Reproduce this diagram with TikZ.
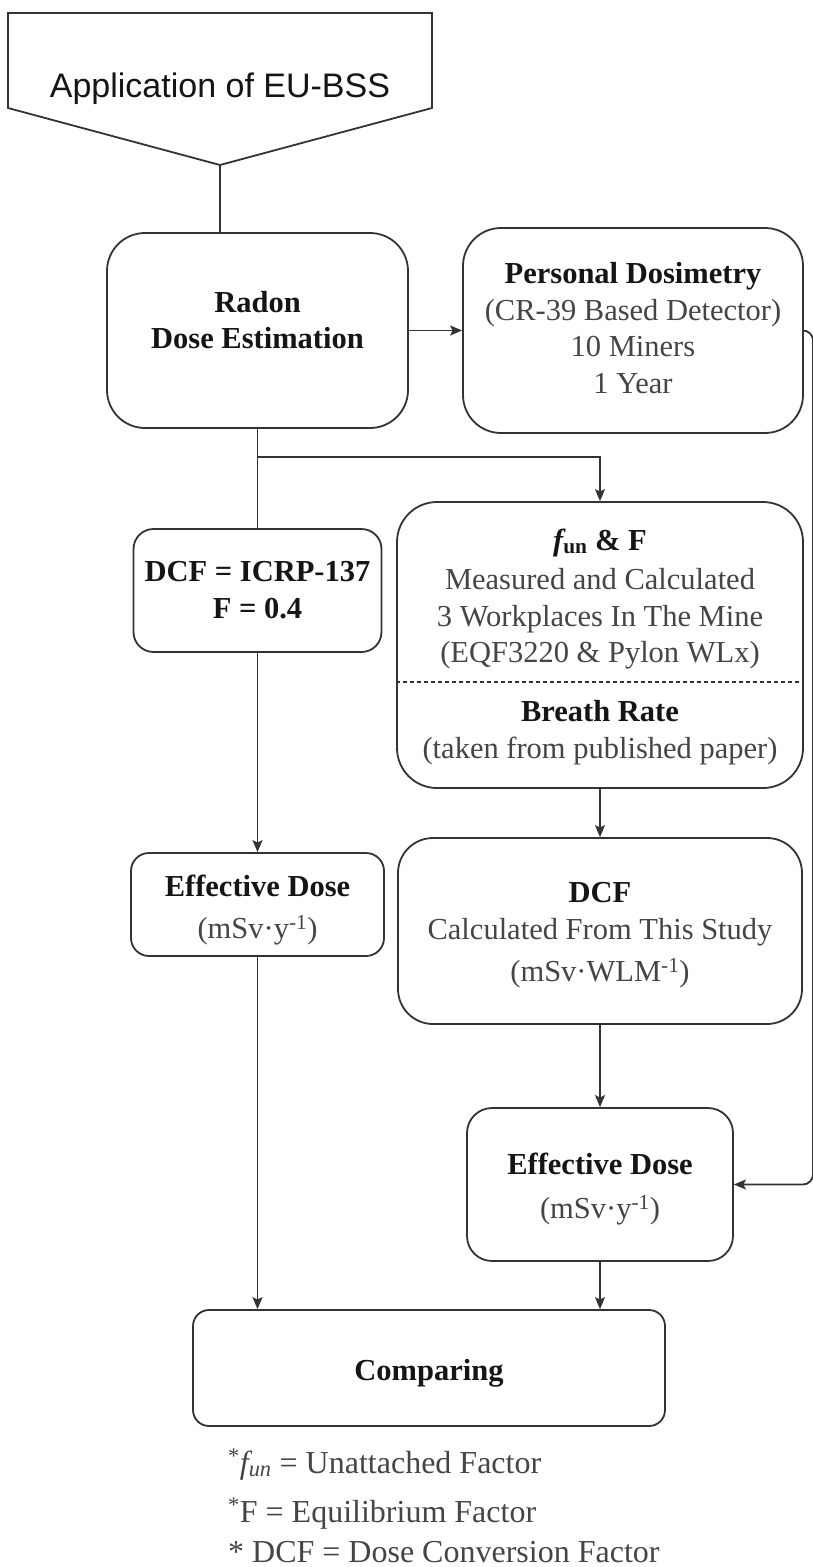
\documentclass[tikz,border=0pt]{standalone}
\usepackage{fontspec}
\setmainfont{Liberation Serif}
\newfontfamily\arialfont{Liberation Sans}
\usetikzlibrary{arrows.meta,calc}
\definecolor{lc}{HTML}{333333}
\definecolor{tg}{HTML}{454545}
\definecolor{tb}{HTML}{151515}
\newcommand\hb[1]{{\color{tb}\bfseries #1}}
\begin{document}
\begin{tikzpicture}[x=1pt,y=-1pt,
  conn/.style={draw=lc,line width=1.8pt},
  arr/.style={conn,-{Stealth[length=12pt,width=10pt,inset=2.5pt]}},
  boxr/.style={draw=lc,line width=1.8pt,rounded corners=#1,rectangle,inner sep=0pt,fill=white},
  boxr/.default=20pt,
  txt/.style={align=center,text=tg,inner sep=0pt,font=\fontsize{30.5}{36.5}\selectfont},
  ]
\useasboundingbox (0,0) rectangle (813,1567);
\fill[white] (0,0) rectangle (813,1567);

% off-page connector
\coordinate (p1) at (8,13);
\coordinate (p2) at (432,13);
\coordinate (p3) at (432,108);
\coordinate (apex) at (220,165);
\coordinate (p5) at (8,108);
\draw[conn] (p1) -- (p2) -- (p3) -- (apex) -- (p5) -- cycle;
\node[anchor=base,inner sep=0pt,text=tb,font=\arialfont\fontsize{34}{40}\selectfont] (title) at (220,97) {Application of EU-BSS};

% boxes
\node[boxr=38pt,minimum width=301pt,minimum height=195pt] (radon) at (257.5,330.5) {};
\node[txt] (radonT) at (257.5,320) {\hb{Radon}\\\hb{Dose Estimation}};

\node[boxr=38pt,minimum width=340pt,minimum height=205pt] (pd) at (633,330.5) {};
\node[txt] (pdT) at (633,328) {\hb{Personal Dosimetry}\\(CR-39 Based Detector)\\10 Miners\\1 Year};

\node[boxr=20pt,minimum width=248pt,minimum height=123pt] (icrp) at (257.5,590.5) {};
\node[txt] (icrpT) at (257.5,590) {\hb{DCF = ICRP-137}\\\hb{F = 0.4}};

\node[boxr=40pt,minimum width=406pt,minimum height=286pt] (fun) at (600,645) {};
\node[txt] (funT) at (600,599) {{\color{tb}\bfseries\itshape f\textsubscript{\upshape un} \upshape\& F}\\[3pt]Measured and Calculated\\3 Workplaces In The Mine\\(EQF3220 \& Pylon WLx)};
\node[txt] (funB) at (600,732.5) {\hb{Breath Rate}\\(taken from published paper)};
\coordinate (dl) at (0,682);
\draw[draw=lc,line width=1.1pt,dash pattern=on 4pt off 3pt] (fun.west |- dl) -- (fun.east |- dl);

\node[boxr=18pt,minimum width=253pt,minimum height=103pt] (eff1) at (257.5,904.5) {};
\node[txt] (eff1T) at (257.5,910) {\hb{Effective Dose}\\[6pt](mSv·y\textsuperscript{-1})};

\node[boxr=35pt,minimum width=404pt,minimum height=186pt] (dcf) at (600,931) {};
\node[txt] (dcfT) at (600,935.5) {\hb{DCF}\\Calculated From This Study\\[6pt](mSv·WLM\textsuperscript{-1})};

\node[boxr=25pt,minimum width=266pt,minimum height=153pt] (eff2) at (600,1184.5) {};
\node[txt] (eff2T) at (600,1189) {\hb{Effective Dose}\\[7pt](mSv·y\textsuperscript{-1})};

\node[boxr=16pt,minimum width=472pt,minimum height=116pt] (comp) at (429,1368) {};
\node[txt,anchor=base] (compT) at (429,1380) {\hb{Comparing}};

% connectors
\draw[conn] (apex) -- (apex |- radon.north);
\draw[arr] (radon.east) -- (pd.west);
\coordinate (branch) at (257.5,457);
\draw[conn] (radon.south) -- (branch);
\draw[arr] (branch) -| (fun.north);
\draw[conn] (branch) -- (icrp.north);
\draw[arr] (icrp.south) -- (eff1.north);
\draw[arr] (fun.south) -- (dcf.north);
\draw[arr] (dcf.south) -- (eff2.north);
\coordinate (rt) at (813,330.5);
\draw[arr,rounded corners=10pt] (pd.east) -- (rt) |- (eff2.east);
\draw[arr] (eff1.south) -- (eff1.south |- comp.north);
\draw[arr] (eff2.south) -- (eff2.south |- comp.north);

% footnotes
\node[anchor=base west,inner sep=0pt,text=tg,font=\fontsize{32}{38}\selectfont] (fn1) at (228,1473) {\textsuperscript{*}\textit{f\textsubscript{un}} = Unattached Factor};
\node[anchor=base west,inner sep=0pt,text=tg,font=\fontsize{32}{38}\selectfont] (fn2) at (228,1522) {\textsuperscript{*}F = Equilibrium Factor};
\node[anchor=base west,inner sep=0pt,text=tg,font=\fontsize{32}{38}\selectfont] (fn3) at (228,1562) {* DCF = Dose Conversion Factor};
\end{tikzpicture}
\end{document}
